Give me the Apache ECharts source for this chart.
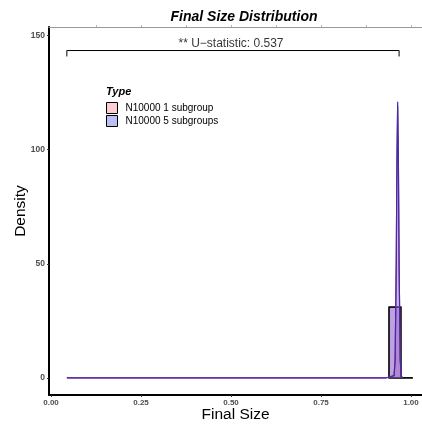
<!DOCTYPE html>
<html>
<head>
<meta charset="utf-8">
<script src="https://cdn.jsdelivr.net/npm/echarts@6/dist/echarts.min.js"></script>
<style>
  html, body { margin: 0; padding: 0; background: #fff; }
  #chart { width: 422px; height: 424px; }
</style>
</head>
<body>
<div id="chart"></div>
<script>
// histogram bins (start, end) and heights per group
const binStarts = [0.939, 0.972];
const binEnds = [0.972, 1.005];
const hist1 = [31, 0];
const hist5 = [31, 0];

// density curves
const densX = [0.044, 0.93, 0.953, 0.956, 0.959, 0.961, 0.963, 0.965, 0.967, 0.970, 0.973, 0.976];
const dens1 = [0, 0, 1, 8, 49, 94, 119, 94, 49, 8, 1, 0];
const dens5 = [0, 0, 1, 8, 50, 96, 121, 96, 50, 8, 1, 0];

// significance bracket
const bracketX = [0.044, 0.044, 0.967, 0.967];
const bracketY = [140.8, 143.4, 143.4, 140.8];
const annotPos = [0.5, 143.4];
const annotText = "** U\u2212statistic: 0.537";

const groups = ["N10000 1 subgroup", "N10000 5 subgroups"];
const xTicks = [0, 0.25, 0.5, 0.75, 1];
const xTopTicks = [0.125, 0.25, 0.375, 0.5, 0.625, 0.75, 0.875, 1];
const yTicks = [0, 50, 100, 150];

const redFill = "rgba(255,105,135,0.35)";
const blueFill = "rgba(110,110,235,0.45)";
const redLine = "#b0246a";
const blueLine = "#3b2fb0";
const font = "Liberation Sans";

const chart = echarts.init(document.getElementById("chart"));

const histData = (h) => binStarts.map((s, i) => [s, binEnds[i], h[i]]);
const densData = (d) => densX.map((x, i) => [x, d[i]]);

const histSeries = (name, h, fill) => ({
  name: name,
  type: "custom",
  data: histData(h),
  itemStyle: { color: fill, borderColor: "#000" },
  renderItem: (params, api) => {
    const p0 = api.coord([api.value(0), 0]);
    const p1 = api.coord([api.value(1), api.value(2)]);
    return {
      type: "rect",
      shape: { x: p0[0], y: p1[1], width: p1[0] - p0[0], height: p0[1] - p1[1] },
      style: { fill: fill, stroke: "#000", lineWidth: 1.2 },
    };
  },
  z: 2,
});

const densSeries = (name, d, line, fill) => ({
  name: name,
  type: "line",
  data: densData(d),
  symbol: "none",
  lineStyle: { color: line, width: 1.2 },
  itemStyle: { color: fill, borderColor: "#000", borderWidth: 1 },
  areaStyle: { color: fill },
  z: 3,
});

const option = {
  animation: false,
  title: [
    {
      text: "Final Size Distribution",
      left: 239,
      top: 5,
      textAlign: "center",
      textStyle: { fontSize: 14, fontWeight: "bold", fontStyle: "italic", color: "#000", fontFamily: font },
    },
    {
      text: "Type",
      left: 101,
      top: 81,
      textStyle: { fontSize: 11, fontWeight: "bold", fontStyle: "italic", color: "#000", fontFamily: font },
    },
  ],
  legend: {
    orient: "vertical",
    left: 106,
    top: 102,
    padding: 0,
    itemWidth: 11,
    itemHeight: 11,
    itemGap: 1,
    icon: "rect",
    data: groups,
    itemStyle: { borderColor: "#000", borderWidth: 1 },
    textStyle: { fontSize: 10, color: "#000", fontFamily: font, padding: [0, 0, 0, 3] },
  },
  grid: { left: 49, right: 0, top: 27, bottom: 29, outerBoundsMode: "none", containLabel: false },
  xAxis: [
    {
      type: "value",
      min: -0.0056,
      max: 1.0306,
      name: "Final Size",
      nameLocation: "middle",
      nameGap: 12,
      nameMoveOverlap: false,
      nameTextStyle: { fontSize: 15.5, color: "#000", fontFamily: font },
      axisLine: { show: true, onZero: false, lineStyle: { color: "#000", width: 2 } },
      axisTick: { show: true, length: 2, customValues: xTicks, lineStyle: { color: "#333" } },
      axisLabel: {
        customValues: xTicks,
        formatter: (v) => v.toFixed(2),
        fontSize: 8,
        fontWeight: "bold",
        color: "#4d4d4d",
        margin: 4,
        fontFamily: font,
      },
      splitLine: { show: false },
    },
    {
      type: "value",
      position: "top",
      min: -0.0056,
      max: 1.0306,
      axisLine: { show: true, onZero: false, lineStyle: { color: "#999", width: 1 } },
      axisTick: { show: true, length: 2, customValues: xTopTicks, lineStyle: { color: "#bbb" } },
      axisLabel: { show: false },
      splitLine: { show: false },
    },
  ],
  yAxis: {
    type: "value",
    min: -7.46,
    max: 153.7,
    name: "Density",
    nameLocation: "middle",
    nameGap: 20,
    nameMoveOverlap: false,
    nameTextStyle: { fontSize: 15.5, color: "#000", fontFamily: font },
    axisLine: { show: true, onZero: false, lineStyle: { color: "#000", width: 2 } },
    axisTick: { show: true, length: 2, customValues: yTicks, lineStyle: { color: "#333" } },
    axisLabel: {
      customValues: yTicks,
      fontSize: 8.5,
      fontWeight: "bold",
      color: "#4d4d4d",
      margin: 4,
      fontFamily: font,
    },
    splitLine: { show: false },
  },
  series: [
    histSeries(groups[0], hist1, redFill),
    histSeries(groups[1], hist5, blueFill),
    densSeries(groups[0], dens1, redLine, redFill),
    densSeries(groups[1], dens5, blueLine, blueFill),
    {
      type: "line",
      data: bracketX.map((x, i) => [x, bracketY[i]]),
      symbol: "none",
      lineStyle: { color: "#000", width: 1 },
      z: 4,
    },
    {
      type: "scatter",
      data: [annotPos],
      symbolSize: 0,
      label: {
        show: true,
        position: "top",
        distance: 1,
        formatter: annotText,
        fontSize: 12,
        color: "#000",
        fontFamily: font,
      },
      z: 4,
    },
  ],
};

chart.setOption(option);
</script>
</body>
</html>
